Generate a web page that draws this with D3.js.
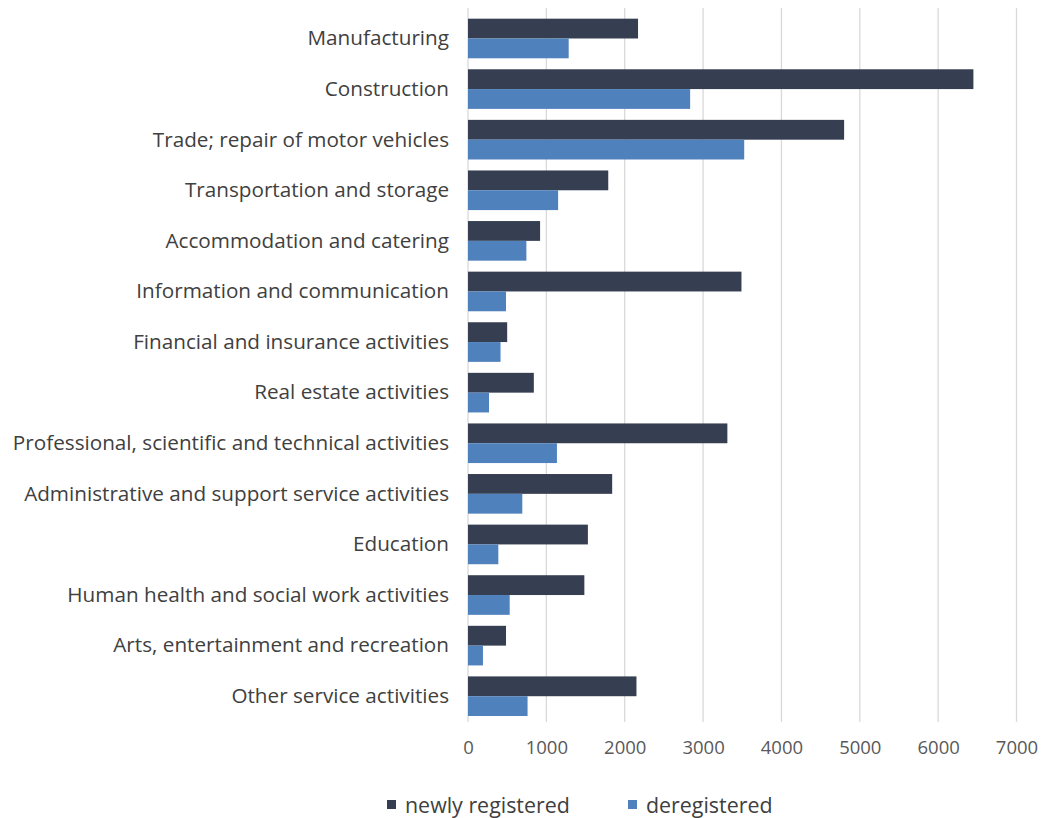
<!DOCTYPE html>
<html lang="en">
<head>
  <meta charset="UTF-8">
  <title>Registered and deregistered enterprises by activity</title>
  <script src="https://d3js.org/d3.v7.min.js"></script>
  <style>
    body {
      margin: 0;
      background: #fff;
      font-family: 'Open Sans', sans-serif;
    }
  </style>
</head>
<body>
  <script>
    // Data
    const categories = [
      "Manufacturing",
      "Construction",
      "Trade; repair of motor vehicles",
      "Transportation and storage",
      "Accommodation and catering",
      "Information and communication",
      "Financial and insurance activities",
      "Real estate activities",
      "Professional, scientific and technical activities",
      "Administrative and support service activities",
      "Education",
      "Human health and social work activities",
      "Arts, entertainment and recreation",
      "Other service activities"
    ];
    const newlyRegistered = [2170, 6450, 4800, 1790, 920, 3490, 500, 840, 3310, 1840, 1530, 1485, 485, 2150];
    const deregistered = [1285, 2835, 3525, 1150, 745, 485, 415, 268, 1135, 693, 387, 532, 191, 760];
    const xTicks = [0, 1000, 2000, 3000, 4000, 5000, 6000, 7000];
    const seriesNames = ["newly registered", "deregistered"];
    const colors = ["#353f51", "#4f81bd"];

    const W = 1043, H = 818;
    const svg = d3.select("body").append("svg")
      .attr("width", W)
      .attr("height", H);

    const x = d3.scaleLinear().domain([0, 7000]).range([468, 1016.5]);
    const y = d3.scaleBand().domain(categories).range([7.7, 727]).padding(0.217);
    const inner = d3.scaleBand().domain(seriesNames).range([0, y.bandwidth()]);

    // gridlines
    svg.append("g")
      .selectAll("line")
      .data(xTicks)
      .join("line")
      .attr("x1", d => x(d)).attr("x2", d => x(d))
      .attr("y1", 8).attr("y2", 722)
      .attr("stroke", "#d9d9d9")
      .attr("stroke-width", 1.3);

    // bars
    const rows = categories.map((c, i) => ({ c, vals: [newlyRegistered[i], deregistered[i]] }));
    const groups = svg.append("g").selectAll("g")
      .data(rows)
      .join("g")
      .attr("transform", d => `translate(0,${y(d.c)})`);

    groups.selectAll("rect")
      .data(d => d.vals.map((v, k) => ({ v, k })))
      .join("rect")
      .attr("x", x(0))
      .attr("y", d => inner(seriesNames[d.k]))
      .attr("width", d => x(d.v) - x(0))
      .attr("height", inner.bandwidth())
      .attr("fill", d => colors[d.k]);

    // category labels
    svg.append("g")
      .selectAll("text")
      .data(categories)
      .join("text")
      .attr("x", 449)
      .attr("y", d => y(d) + y.bandwidth() / 2)
      .attr("dy", "0.33em")
      .attr("text-anchor", "end")
      .attr("fill", "#404040")
      .style("font-size", "20.7px")
      .text(d => d);

    // x axis tick labels
    const xAxis = svg.append("g")
      .attr("transform", "translate(0,735)")
      .call(d3.axisBottom(x).tickValues(xTicks).tickSize(0).tickPadding(0).tickFormat(d3.format("d")));
    xAxis.select(".domain").remove();
    xAxis.selectAll("text")
      .attr("fill", "#595959")
      .attr("dy", "0.35em")
      .attr("y", 13)
      .style("font-size", "18.5px")
      .style("font-family", "'Open Sans', sans-serif");

    // legend
    const legendX = [387, 628];
    const legend = svg.append("g").selectAll("g")
      .data(seriesNames)
      .join("g")
      .attr("transform", (d, i) => `translate(${legendX[i]},805)`);
    legend.append("rect")
      .attr("x", 0).attr("y", -5)
      .attr("width", 9).attr("height", 9)
      .attr("fill", (d, i) => colors[i]);
    legend.append("text")
      .attr("x", 18)
      .attr("dy", "0.35em")
      .attr("fill", "#404040")
      .style("font-size", "21.4px")
      .text(d => d);
  </script>
</body>
</html>
